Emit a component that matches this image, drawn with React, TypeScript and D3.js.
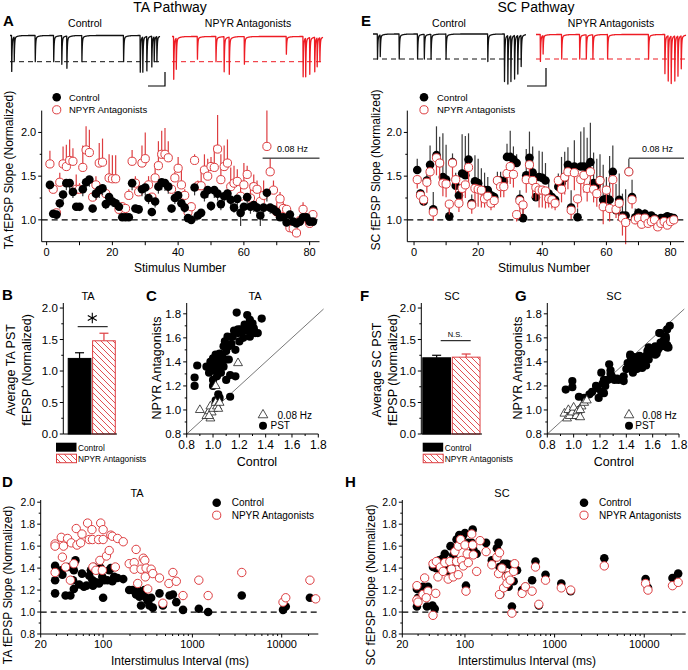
import React from "react";
import * as d3 from "d3";

// ---------------- DATA ----------------
const stimulusNumbers = d3.range(1, 82);

// Panel A (TA pathway) – mean normalized slope per stimulus
const taCtrl = [1.40,1.07,1.06,1.19,1.29,1.42,1.42,1.32,1.15,1.15,
 1.35,1.43,1.46,1.13,1.30,1.34,1.36,1.18,1.26,1.21,
 1.19,1.15,1.03,1.03,1.03,1.42,1.13,1.12,1.35,1.37,
 1.25,1.09,1.21,1.38,1.43,1.42,1.38,1.13,1.25,1.28,
 1.19,1.14,1.02,1.00,1.37,1.05,1.08,1.29,1.34,1.16,
 1.34,1.30,1.18,1.27,1.30,1.23,1.14,1.24,1.08,1.15,
 1.26,1.15,1.17,1.14,1.05,1.14,1.31,1.14,1.12,1.09,
 1.03,1.03,0.97,1.06,0.98,0.96,0.98,1.03,1.03,0.98,0.98];
const taCtrlErr = [0.05,0.04,0.04,0.06,0.07,0.08,0.08,0.07,0.05,0.05,
 0.08,0.08,0.08,0.05,0.07,0.09,0.08,0.06,0.07,0.06,
 0.06,0.05,0.03,0.03,0.03,0.08,0.05,0.05,0.08,0.09,
 0.07,0.05,0.07,0.08,0.09,0.09,0.08,0.05,0.07,0.08,
 0.06,0.06,0.03,0.03,0.09,0.04,0.05,0.08,0.09,0.06,
 0.09,0.08,0.07,0.08,0.09,0.08,0.06,0.08,0.15,0.07,
 0.09,0.08,0.08,0.07,0.12,0.07,0.10,0.07,0.06,0.05,
 0.04,0.04,0.03,0.05,0.03,0.03,0.03,0.04,0.03,0.03,0.03];
const taNpyr = [1.64,1.35,1.08,1.43,1.64,1.61,1.68,1.67,1.35,1.35,
 1.60,1.80,1.77,1.26,1.40,1.65,1.66,1.30,1.48,1.47,
 1.47,1.12,1.15,1.13,1.28,1.67,1.42,1.32,1.65,1.70,
 1.40,1.26,1.48,1.62,1.75,1.75,1.71,1.35,1.48,1.59,
 1.40,1.28,1.09,1.15,1.68,1.39,1.39,1.57,1.50,1.61,
 1.60,1.81,1.46,1.61,1.65,1.38,1.42,1.44,1.27,1.40,
 1.52,1.25,1.38,1.35,1.21,1.28,1.84,1.55,1.34,1.09,
 1.24,1.13,1.12,0.91,0.90,0.85,0.99,1.12,1.02,0.96,1.06];
const taNpyrErr = [0.15,0.05,0.03,0.11,0.20,0.25,0.24,0.15,0.17,0.07,
 0.25,0.27,0.26,0.02,0.10,0.23,0.27,0.05,0.27,0.27,
 0.27,0.03,0.05,0.02,0.07,0.13,0.08,0.08,0.20,0.30,
 0.10,0.04,0.17,0.28,0.27,0.30,0.19,0.05,0.07,0.13,
 0.18,0.07,0.03,0.05,0.07,0.06,0.16,0.18,0.20,0.11,
 0.25,0.39,0.29,0.24,0.27,0.22,0.20,0.14,0.18,0.25,
 0.10,0.17,0.14,0.10,0.17,0.17,0.41,0.15,0.11,0.11,
 0.08,0.07,0.05,0.04,0.05,0.03,0.06,0.08,0.03,0.04,0.04];

// Panel E (SC pathway)
const scCtrl = [1.57,1.30,1.21,1.45,1.63,1.12,1.74,1.65,1.49,1.46,
 1.04,1.66,1.39,1.28,1.53,1.51,1.69,1.19,1.44,1.42,
 1.34,1.34,1.34,1.28,1.26,1.45,1.45,1.44,1.72,1.72,
 1.69,1.65,1.24,1.02,1.51,1.71,1.54,1.26,1.49,1.48,
 1.45,1.30,1.26,1.23,1.38,1.42,1.48,1.63,1.14,1.61,
 1.03,1.61,1.61,1.59,1.66,1.42,1.40,1.45,1.23,1.24,
 1.23,1.55,1.11,1.23,1.05,1.05,1.55,1.26,1.03,1.08,
 1.05,1.07,1.04,1.05,1.02,0.98,1.02,1.02,1.04,1.03,1.02];
const scCtrlErr = [0.13,0.05,0.05,0.10,0.22,0.20,0.33,0.30,0.50,0.40,
 0.10,0.10,0.15,0.10,0.45,0.45,0.30,0.10,0.30,0.28,
 0.25,0.20,0.15,0.05,0.05,0.10,0.10,0.10,0.15,0.30,
 0.15,0.10,0.10,0.15,0.30,0.30,0.30,0.10,0.30,0.30,
 0.20,0.15,0.05,0.05,0.15,0.30,0.30,0.20,0.20,0.30,
 0.10,0.40,0.45,0.35,0.45,0.35,0.30,0.30,0.40,0.25,
 0.50,0.30,0.30,0.30,0.25,0.30,0.15,0.20,0.10,0.05,
 0.05,0.05,0.04,0.03,0.03,0.03,0.03,0.03,0.03,0.03,0.02];
const scNpyr = [1.46,1.28,1.23,1.43,1.55,1.09,1.71,1.65,1.42,1.41,
 1.18,1.65,1.46,1.19,1.36,1.40,1.60,1.17,1.36,1.35,
 1.34,1.24,1.27,1.19,1.22,1.45,1.38,1.38,1.53,1.61,
 1.52,1.06,1.22,1.17,1.46,1.63,1.45,1.37,1.34,1.34,
 1.33,1.24,1.23,1.19,1.45,1.35,1.49,1.55,1.11,1.54,
 1.24,1.46,1.51,1.36,1.55,1.35,1.30,1.45,1.15,1.34,
 1.13,1.46,1.12,1.19,1.02,0.97,1.55,1.23,1.00,1.02,
 0.95,1.02,0.96,0.98,1.00,0.92,0.96,0.98,0.94,0.98,1.00];
const scNpyrErr = [0.10,0.08,0.07,0.12,0.15,0.10,0.20,0.20,0.15,0.15,
 0.12,0.20,0.15,0.10,0.15,0.15,0.20,0.10,0.15,0.20,
 0.20,0.10,0.10,0.08,0.08,0.10,0.12,0.12,0.15,0.20,
 0.15,0.08,0.15,0.10,0.15,0.20,0.20,0.15,0.20,0.20,
 0.20,0.10,0.10,0.08,0.10,0.15,0.20,0.20,0.10,0.20,
 0.10,0.20,0.20,0.15,0.20,0.15,0.15,0.15,0.20,0.20,
 0.15,0.20,0.10,0.15,0.20,0.25,0.05,0.10,0.05,0.05,
 0.05,0.04,0.04,0.03,0.03,0.03,0.03,0.03,0.03,0.03,0.03];

// Example traces: stimulus positions (fraction of sweep) and peak depths (dashed line = 1)
const taStimPos = [0.01,0.027,0.167,0.29,0.344,0.378,0.478,0.756,0.867,0.884,0.911,0.944,0.96,0.978];
const taCtrlDepth = [1.37,0.95,1.0,1.0,1.1,1.25,1.0,1.0,1.4,1.4,1.35,1.2,1.0,1.0];
const taNpyrDepth = [1.7,1.3,0.9,1.0,1.4,1.5,1.1,0.7,1.6,1.6,1.5,1.4,1.2,1.0];
const scStimPos = [0.028,0.046,0.17,0.29,0.334,0.378,0.476,0.749,0.858,0.88,0.9,0.924,0.945,0.967];
const scCtrlDepth = [1.0,0.9,1.0,1.0,1.0,1.0,1.0,1.1,1.9,2.0,1.9,1.8,1.6,1.3];
const scNpyrDepth = [1.1,0.8,1.0,1.0,1.0,1.0,1.0,1.0,1.6,1.9,2.0,1.9,1.7,1.4];

// Bars (B, F)
const barGroups = ["Control", "NPYR Antagonists"];
const taBarMeans = [1.20, 1.48];
const taBarErrs = [0.09, 0.12];
const scBarMeans = [1.21, 1.22];
const scBarErrs = [0.04, 0.05];

// Scatter C (TA): [control, NPYR]
const taPstPairs = [[0.86,1.27],[0.86,1.20],[0.88,1.37],[0.95,1.36],[0.97,1.31],[0.98,1.40],[0.99,1.36],[1.00,1.25],[1.00,1.43],[1.01,1.33],
 [1.02,1.39],[1.02,1.46],[1.03,1.28],[1.03,1.40],[1.04,1.36],[1.05,1.47],[1.05,1.42],[1.06,1.31],[1.07,1.38],[1.07,1.44],
 [1.08,1.53],[1.08,1.36],[1.09,1.57],[1.10,1.49],[1.10,1.42],[1.11,1.61],[1.12,1.53],[1.12,1.42],[1.13,1.29],[1.14,1.55],
 [1.15,1.61],[1.16,1.66],[1.17,1.50],[1.18,1.81],[1.19,1.64],[1.19,1.67],[1.20,1.57],[1.21,1.67],[1.23,1.60],[1.23,1.66],
 [1.24,1.71],[1.26,1.66],[1.26,1.79],[1.27,1.70],[1.28,1.61],[1.28,1.75],[1.29,1.67],[1.30,1.72],[1.31,1.68],[1.32,1.64],
 [1.34,1.64],[1.37,1.76],[1.13,1.11],[1.04,1.13],[1.02,1.08],[1.00,1.20],[1.17,1.28],[1.10,1.25],[1.05,1.10]];
const taLowPairs = [[0.90,1.00],[0.95,0.95],[0.97,0.99],[0.98,0.93],[0.98,1.03],[0.99,0.98],[1.00,1.01],[1.02,1.06],[1.03,1.03],[1.04,1.01],
 [1.05,1.06],[1.02,1.20],[1.19,1.39],[0.97,0.95]];

// Scatter G (SC)
const scPstPairs = [[0.94,1.17],[0.99,1.24],[0.99,1.19],[1.04,1.11],[1.08,1.10],[1.12,1.13],[1.14,1.15],[1.17,1.20],[1.18,1.18],[1.19,1.10],
 [1.22,1.22],[1.23,1.25],[1.24,1.20],[1.26,1.25],[1.28,1.30],[1.29,1.28],[1.27,1.38],[1.21,1.31],[1.21,1.15],[1.23,1.14],
 [1.31,1.25],[1.33,1.26],[1.34,1.25],[1.38,1.28],[1.40,1.34],[1.41,1.39],[1.42,1.36],[1.43,1.46],[1.43,1.45],[1.44,1.42],
 [1.45,1.40],[1.46,1.36],[1.46,1.44],[1.47,1.38],[1.48,1.34],[1.48,1.42],[1.50,1.40],[1.50,1.45],[1.51,1.36],[1.52,1.35],
 [1.53,1.40],[1.53,1.42],[1.55,1.45],[1.56,1.49],[1.57,1.52],[1.59,1.47],[1.60,1.50],[1.61,1.49],[1.62,1.53],[1.63,1.47],
 [1.64,1.50],[1.65,1.52],[1.66,1.56],[1.67,1.53],[1.68,1.57],[1.69,1.60],[1.70,1.59],[1.71,1.54],[1.71,1.52],[1.65,1.64],
 [1.66,1.64],[1.70,1.61],[1.71,1.67],[1.73,1.70],[1.72,1.52],[1.62,1.46],[1.57,1.42],[1.55,1.37],[1.45,1.31],[1.38,1.24],
 [1.03,0.95],[1.28,1.33]];
const scLowPairs = [[0.93,0.97],[0.95,0.93],[0.96,1.00],[0.97,0.95],[0.99,0.98],[1.00,1.02],[1.02,0.95],[1.03,0.99],[1.05,0.94],[1.06,1.03],
 [1.08,1.06],[1.10,1.08],[1.05,1.00]];

// D (TA) interstimulus interval (ms) vs normalized slope
const taIsiCtrl = [[29,1.42],[29,1.29],[29,1.17],[34,1.38],[35,1.34],[38,1.15],[40,1.41],[43,1.15],[46,1.29],[47,1.38],
 [49,1.47],[47,1.21],[54,1.25],[58,1.35],[61,1.23],[65,1.24],[70,1.33],[73,1.38],[76,1.29],[77,1.24],
 [79,1.41],[83,1.27],[86,1.38],[90,1.26],[94,1.40],[98,1.32],[100,1.13],[103,1.29],[112,1.29],[117,1.38],
 [122,1.40],[127,1.28],[133,1.32],[145,1.31],[168,1.30],[196,1.20],[214,1.20],[234,1.16],[244,1.20],[255,1.14],
 [266,1.06],[278,1.16],[290,1.20],[303,1.13],[316,1.10],[330,1.06],[345,1.13],[360,1.04],[428,1.17],[467,1.06],
 [555,1.15],[605,1.16],[660,1.09],[785,1.02],[1180,1.03],[1500,1.00],[3570,1.15],[10350,1.02],[11100,1.05],[20700,1.13]];
const taIsiNpyr = [[29,1.62],[29,1.60],[29,1.36],[34,1.68],[35,1.50],[36,1.60],[38,1.41],[40,1.67],[43,1.29],[44,1.63],
 [47,1.44],[50,1.76],[51,1.61],[56,1.63],[58,1.71],[67,1.81],[70,1.66],[75,1.75],[76,1.66],[77,1.41],
 [83,1.38],[89,1.66],[92,1.47],[94,1.81],[100,1.75],[100,1.66],[98,1.38],[109,1.51],[117,1.56],[122,1.70],
 [127,1.69],[137,1.41],[145,1.67],[168,1.64],[196,1.44],[223,1.45],[234,1.57],[223,1.39],[244,1.26],[266,1.39],
 [282,1.49],[293,1.47],[297,1.32],[303,1.40],[316,1.21],[345,1.39],[360,1.35],[428,1.31],[467,1.08],[546,1.26],
 [605,1.36],[660,1.28],[785,1.15],[1180,1.29],[1500,1.15],[3570,1.36],[10350,1.09],[11100,1.13],[20700,1.29],[24000,1.12]];

// H (SC)
const scIsiCtrl = [[29.1,1.21],[29.1,1.05],[29.9,1.13],[34,1.23],[38.7,1.23],[37.7,1.05],[43.4,1.06],[46,1.03],[44,1.41],[48,1.40],
 [51.5,1.47],[54.7,1.44],[57,1.49],[59.6,1.53],[62,1.41],[66.7,1.37],[69,1.60],[70.8,1.43],[74,1.52],[80.6,1.66],
 [86.4,1.70],[91.8,1.44],[94.2,1.69],[100,1.72],[102.6,1.24],[109,1.63],[119,1.63],[122,1.75],[124,1.57],[135,1.53],
 [172,1.63],[199.5,1.47],[227,1.58],[237,1.63],[243,1.41],[247,1.16],[270,1.44],[289,1.33],[294,1.44],[307,1.23],
 [320,1.43],[334,1.05],[349,1.28],[358,1.40],[381,1.38],[434,1.20],[472,1.23],[561,1.29],[612,1.46],[667,1.06],
 [792,1.34],[1188,1.26],[1513,1.19],[3584,1.49],[10350,1.30],[11000,1.22],[20650,1.31],[23900,1.35]];
const scIsiNpyr = [[29.1,1.24],[29.1,1.11],[29.9,1.09],[34,1.16],[35.5,1.31],[38.7,1.19],[37,1.13],[44,0.97],[47.2,1.17],[44,1.44],
 [48,1.46],[50,1.32],[53.3,1.41],[57,1.37],[59.6,1.45],[65,1.30],[67.8,1.46],[70.8,1.39],[74,1.32],[77.2,1.55],
 [80.6,1.46],[84.2,1.60],[84.2,1.34],[89.4,1.66],[91.8,1.47],[95.8,1.42],[100,1.61],[102.6,1.19],[106,1.53],[109,1.45],
 [119,1.71],[122,1.61],[124,1.52],[135,1.37],[147.4,1.65],[172,1.55],[199.5,1.43],[227,1.50],[237,1.35],[243,1.54],
 [243,1.16],[258,1.40],[270,1.22],[289,1.32],[294,1.26],[307,1.33],[320,1.29],[334,0.99],[349,1.37],[358,1.44],
 [434,1.17],[472,1.23],[561,1.19],[612,1.41],[667,1.07],[792,1.29],[1188,1.22],[1513,1.20],[3584,1.42],[10350,1.26],
 [11000,1.20],[20650,1.24],[23900,1.27]];

// Tick values
const seriesYTicks = [1.0, 1.5, 2.0];
const seriesYMinor = [1.25, 1.75];
const seriesXTicks = [0, 10, 20, 30, 40, 50, 60, 70, 80];
const seriesXLabels = [0, 20, 40, 60, 80];
const barYTicks = [0, 0.5, 1.0, 1.5, 2.0];
const barYMinor = [0.25, 0.75, 1.25, 1.75];
const scatTicks = [0.8, 1.0, 1.2, 1.4, 1.6, 1.8];
const scatMinor = [0.9, 1.1, 1.3, 1.5, 1.7];
const isiYTicks = [0.8, 1.0, 1.2, 1.4, 1.6, 1.8, 2.0];
const isiYMinor = [0.9, 1.1, 1.3, 1.5, 1.7, 1.9];
const isiXTicks = [20, 100, 1000, 10000];
const isiXMinor = [30,40,50,60,70,80,90,200,300,400,500,600,700,800,900,2000,3000,4000,5000,6000,7000,8000,9000,20000];

// ---------------- STYLE ----------------
const FONT = "'Liberation Sans', Arial, Helvetica, sans-serif";
const TRACE_RED = "#ee1c24";
const MARK_RED = "#dd3d40";
const f1 = (v: number) => v.toFixed(1);

function AxisY({ x, scale, ticks, minor = [], labels, fmt = f1, fs = 11, tl = 3.5, ml = 2, gap = 2 }: any) {
  const [r0, r1] = scale.range();
  const lab = labels || ticks;
  return (
    <g>
      <line x1={x} x2={x} y1={r0} y2={r1} stroke="#000" strokeWidth={1} />
      {ticks.map((v: number) => <line key={"M" + v} x1={x - tl} x2={x} y1={scale(v)} y2={scale(v)} stroke="#000" />)}
      {minor.map((v: number) => <line key={"m" + v} x1={x - ml} x2={x} y1={scale(v)} y2={scale(v)} stroke="#000" />)}
      {lab.map((v: number) => (
        <text key={"t" + v} x={x - tl - gap} y={scale(v)} dy="0.36em" textAnchor="end" fontSize={fs}>{fmt(v)}</text>
      ))}
    </g>
  );
}

function AxisX({ y, scale, ticks, minor = [], labels, fmt = (v: number) => String(v), fs = 11, tl = 3.5, ml = 2, gap = 2 }: any) {
  const [r0, r1] = scale.range();
  const lab = labels || ticks;
  return (
    <g>
      <line x1={r0} x2={r1} y1={y} y2={y} stroke="#000" strokeWidth={1} />
      {ticks.map((v: number) => <line key={"M" + v} x1={scale(v)} x2={scale(v)} y1={y} y2={y + tl} stroke="#000" />)}
      {minor.map((v: number) => <line key={"m" + v} x1={scale(v)} x2={scale(v)} y1={y} y2={y + ml} stroke="#000" />)}
      {lab.map((v: number) => (
        <text key={"t" + v} x={scale(v)} y={y + tl + gap + fs * 0.8} textAnchor="middle" fontSize={fs}>{fmt(v)}</text>
      ))}
    </g>
  );
}

function Trace({ x0, x1, yBase, yDash, pos, depth, color }: any) {
  const xs = d3.scaleLinear().domain([0, 1]).range([x0, x1]);
  const ys = d3.scaleLinear().domain([0, 1]).range([yBase, yDash]);
  const rise = 0.0015, tau = 0.0025;
  const kernel = (dt: number) =>
    dt < 0 ? 0 : dt < rise ? dt / rise : 0.9 * Math.exp(-(dt - rise) / tau) + 0.1 * Math.exp(-(dt - rise) / 0.02);
  const samples = d3.merge<number>([d3.range(0, 1.0001, 0.001), pos, pos.map((p: number) => p + rise)]).sort(d3.ascending);
  const pts = samples.map((t: number) => [t, d3.max(pos, (p: number, i: number) => kernel(t - p) * depth[i]) as number]);
  const line = d3.line<any>().x((d) => xs(d[0])).y((d) => ys(d[1]));
  return (
    <g>
      <line x1={x0} x2={x1} y1={yDash} y2={yDash} stroke={color} strokeWidth={1} strokeDasharray="5,4" />
      <path d={line(pts) || ""} fill="none" stroke={color} strokeWidth={1.3} strokeLinejoin="round" />
    </g>
  );
}

function Series({ xs, ys, ctrl, ctrlErr, ctrlDir, npyr, npyrErr, npyrDir, redOnTop }: any) {
  const black = (
    <g key="black">
      {ctrl.map((v: number, i: number) => (
        <line key={"e" + i} x1={xs(stimulusNumbers[i])} x2={xs(stimulusNumbers[i])} y1={ys(v)} y2={ys(v + ctrlDir * ctrlErr[i])} stroke="#3a3a3a" strokeWidth={1.2} />
      ))}
      {ctrl.map((v: number, i: number) => (
        <circle key={"c" + i} cx={xs(stimulusNumbers[i])} cy={ys(v)} r={4.3} fill="#000" />
      ))}
    </g>
  );
  const red = (
    <g key="red">
      {npyr.map((v: number, i: number) => (
        <line key={"e" + i} x1={xs(stimulusNumbers[i])} x2={xs(stimulusNumbers[i])} y1={ys(v)} y2={ys(v + npyrDir * npyrErr[i])} stroke={MARK_RED} strokeWidth={1.2} />
      ))}
      {npyr.map((v: number, i: number) => (
        <circle key={"c" + i} cx={xs(stimulusNumbers[i])} cy={ys(v)} r={4.1} fill="#fff" stroke={MARK_RED} strokeWidth={1} />
      ))}
    </g>
  );
  return <g>{redOnTop ? [black, red] : [red, black]}</g>;
}

function Bars({ band, ys, means, errs, hatchId }: any) {
  return (
    <g>
      {barGroups.map((g, i) => {
        const x = band(g);
        const w = band.bandwidth();
        const col = i === 0 ? "#000" : MARK_RED;
        const top = ys(means[i]);
        const et = ys(means[i] + errs[i]);
        const cx = x + w / 2;
        return (
          <g key={g}>
            <line x1={cx} x2={cx} y1={top} y2={et} stroke={col} strokeWidth={1.2} />
            <line x1={cx - 4.5} x2={cx + 4.5} y1={et} y2={et} stroke={col} strokeWidth={1.2} />
            <rect x={x} y={top} width={w} height={ys(0) - top} fill={i === 0 ? "#000" : `url(#${hatchId})`} stroke={col} strokeWidth={1} />
          </g>
        );
      })}
    </g>
  );
}

function BarLegend({ x, y, hatchId }: any) {
  return (
    <g fontSize={8.3}>
      <rect x={x} y={y} width={20.5} height={9} fill="#000" />
      <text x={x + 22} y={y + 8}>Control</text>
      <rect x={x + 0.5} y={y + 11.5} width={20} height={8.5} fill={`url(#${hatchId})`} stroke={MARK_RED} strokeWidth={1} />
      <text x={x + 22} y={y + 19.5}>NPYR Antagonists</text>
    </g>
  );
}

function Scatter({ xs, ys, pst, low }: any) {
  const tri = d3.symbol().type(d3.symbolTriangle).size(34)() || "";
  return (
    <g>
      <line x1={xs(0.8)} y1={ys(0.8)} x2={xs(1.84)} y2={ys(1.84)} stroke="#555" strokeWidth={0.8} />
      {pst.map((p: number[], i: number) => <circle key={"p" + i} cx={xs(p[0])} cy={ys(p[1])} r={4.1} fill="#000" />)}
      {low.map((p: number[], i: number) => (
        <path key={"l" + i} d={tri} transform={`translate(${xs(p[0])},${ys(p[1])})`} fill="#fff" stroke="#222" strokeWidth={0.8} />
      ))}
    </g>
  );
}

function ScatterLegend({ x, y, textX }: any) {
  const tri = d3.symbol().type(d3.symbolTriangle).size(40)() || "";
  return (
    <g fontSize={10}>
      <path d={tri} transform={`translate(${x},${y})`} fill="#fff" stroke="#222" strokeWidth={0.8} />
      <text x={textX} y={y + 3.5}>0.08 Hz</text>
      <circle cx={x} cy={y + 10.7} r={4} fill="#000" />
      <text x={textX - 7} y={y + 14.3}>PST</text>
    </g>
  );
}

function IsiPlot({ xs, ys, ctrl, npyr }: any) {
  return (
    <g>
      <line x1={xs.range()[0]} x2={xs.range()[1]} y1={ys(1)} y2={ys(1)} stroke="#000" strokeWidth={1.2} strokeDasharray="6,4" />
      {ctrl.map((p: number[], i: number) => <circle key={"c" + i} cx={xs(p[0])} cy={ys(p[1])} r={4.3} fill="#000" />)}
      {npyr.map((p: number[], i: number) => (
        <circle key={"n" + i} cx={xs(p[0])} cy={ys(p[1])} r={4.2} fill="#fff" stroke={MARK_RED} strokeWidth={1} />
      ))}
    </g>
  );
}

function Legend2({ x, y, textX, fs = 9.5 }: any) {
  return (
    <g fontSize={fs}>
      <circle cx={x} cy={y} r={4.3} fill="#000" />
      <text x={textX} y={y + 3.5}>Control</text>
      <circle cx={x} cy={y + 12.5} r={4.1} fill="#fff" stroke={MARK_RED} strokeWidth={1} />
      <text x={textX} y={y + 16}>NPYR Antagonists</text>
    </g>
  );
}

export default function App() {
  // A / E
  const xA = d3.scaleLinear().domain([-1.5, 83]).range([41.7, 319.5]);
  const yA = d3.scaleLinear().domain([0.75, 2.25]).range([241.7, 110.6]);
  const xE = d3.scaleLinear().domain([-2.1, 84.2]).range([407.3, 684]);
  const yE = yA.copy();
  // B / F
  const yB = d3.scaleLinear().domain([0, 2.08]).range([434, 303]);
  const bandB = d3.scaleBand().domain(barGroups).range([66.5, 117]).paddingInner(0.07).paddingOuter(0.07);
  const bandF = d3.scaleBand().domain(barGroups).range([421.3, 481.5]).paddingInner(0.06).paddingOuter(0.05);
  // C / G
  const xC = d3.scaleLinear().domain([0.8, 1.8]).range([186.7, 318.3]);
  const yC = d3.scaleLinear().domain([0.8, 1.89]).range([434, 303]);
  const xG = d3.scaleLinear().domain([0.8, 1.8]).range([547.3, 679]);
  // D / H
  const xD = d3.scaleLog().domain([20, 25700]).range([40.7, 318.3]);
  const yD = d3.scaleLinear().domain([0.8, 2.02]).range([634, 500]);
  const xH = d3.scaleLog().domain([20, 29000]).range([402.3, 685.7]);

  const isiFmt = (v: number) => String(v);
  const star = [90, 30, 150].map((a) => {
    const r = 5.2, rad = (a * Math.PI) / 180;
    return [92.3 - r * Math.cos(rad), 318 - r * Math.sin(rad), 92.3 + r * Math.cos(rad), 318 + r * Math.sin(rad)];
  });

  return (
    <svg width={688} height={670} viewBox="0 0 688 670" style={{ position: "absolute", left: 0, top: 0, fontFamily: FONT, background: "#fff" }}>
      <defs>
        <pattern id="hatch" patternUnits="userSpaceOnUse" width="6" height="6">
          <rect width="6" height="6" fill="#fff" />
          <path d="M0,0 L6,6 M-1.5,4.5 L1.5,7.5 M4.5,-1.5 L7.5,1.5" stroke={MARK_RED} strokeWidth={0.9} />
        </pattern>
      </defs>
      <rect width={688} height={670} fill="#fff" />

      {/* ---------- Headers ---------- */}
      <text x={170} y={12} fontSize={14} textAnchor="middle">TA Pathway</text>
      <text x={536} y={12} fontSize={14} textAnchor="middle">SC Pathway</text>
      <text x={3} y={26} fontSize={15} fontWeight="bold">A</text>
      <text x={361} y={26} fontSize={15} fontWeight="bold">E</text>
      <text x={85} y={26.5} fontSize={10.5} textAnchor="middle">Control</text>
      <text x={248} y={26.5} fontSize={10.5} textAnchor="middle">NPYR Antagonists</text>
      <text x={449} y={26.5} fontSize={10.5} textAnchor="middle">Control</text>
      <text x={611} y={26.5} fontSize={10.5} textAnchor="middle">NPYR Antagonists</text>

      {/* ---------- Traces ---------- */}
      <Trace x0={10} x1={160} yBase={35.5} yDash={61.7} pos={taStimPos} depth={taCtrlDepth} color="#111" />
      <Trace x0={172} x1={323} yBase={36.5} yDash={61.7} pos={taStimPos} depth={taNpyrDepth} color={TRACE_RED} />
      <Trace x0={373} x1={526} yBase={34} yDash={59} pos={scStimPos} depth={scCtrlDepth} color="#111" />
      <Trace x0={536} x1={686} yBase={34.5} yDash={59} pos={scStimPos} depth={scNpyrDepth} color={TRACE_RED} />
      <path d="M148,86 L165,86 L165,72" fill="none" stroke="#000" strokeWidth={1.2} />
      <path d="M527,86 L546,86 L546,68" fill="none" stroke="#000" strokeWidth={1.2} />

      {/* ---------- A ---------- */}
      <line x1={xA.range()[0]} x2={xA.range()[1]} y1={yA(1)} y2={yA(1)} stroke="#000" strokeWidth={1.2} strokeDasharray="6,4" />
      <Series xs={xA} ys={yA} ctrl={taCtrl} ctrlErr={taCtrlErr} ctrlDir={-1} npyr={taNpyr} npyrErr={taNpyrErr} npyrDir={1} redOnTop={false} />
      <AxisY x={41.7} scale={yA} ticks={seriesYTicks} minor={seriesYMinor} fs={11} />
      <AxisX y={241.7} scale={xA} ticks={seriesXTicks} labels={seriesXLabels} fs={11} />
      <line x1={xA(65.7)} x2={xA(83)} y1={yA(1.706)} y2={yA(1.706)} stroke="#000" strokeWidth={1} />
      <text x={277} y={152} fontSize={9}>0.08 Hz</text>
      <Legend2 x={56.7} y={97.3} textX={69} />
      <text transform="translate(13,170) rotate(-90)" fontSize={12} textAnchor="middle">TA fEPSP Slope (Normalized)</text>
      <text x={180} y={272} fontSize={12} textAnchor="middle">Stimulus Number</text>

      {/* ---------- E ---------- */}
      <line x1={xE.range()[0]} x2={xE.range()[1]} y1={yE(1)} y2={yE(1)} stroke="#000" strokeWidth={1.2} strokeDasharray="6,4" />
      <Series xs={xE} ys={yE} ctrl={scCtrl} ctrlErr={scCtrlErr} ctrlDir={1} npyr={scNpyr} npyrErr={scNpyrErr} npyrDir={-1} redOnTop={true} />
      <AxisY x={407.3} scale={yE} ticks={seriesYTicks} minor={seriesYMinor} fs={11} />
      <AxisX y={241.7} scale={xE} ticks={seriesXTicks} labels={seriesXLabels} fs={11} />
      <line x1={xE(67)} x2={xE(84.2)} y1={yE(1.706)} y2={yE(1.706)} stroke="#000" strokeWidth={1} />
      <text x={642} y={152} fontSize={9}>0.08 Hz</text>
      <Legend2 x={424} y={97.3} textX={437} />
      <text transform="translate(380,170) rotate(-90)" fontSize={12} textAnchor="middle">SC fEPSP Slope (Normalized)</text>
      <text x={544} y={272} fontSize={12} textAnchor="middle">Stimulus Number</text>

      {/* ---------- B ---------- */}
      <text x={2} y={300} fontSize={15} fontWeight="bold">B</text>
      <text x={88} y={300} fontSize={11} textAnchor="middle">TA</text>
      <Bars band={bandB} ys={yB} means={taBarMeans} errs={taBarErrs} hatchId="hatch" />
      <AxisY x={63.3} scale={yB} ticks={barYTicks} minor={barYMinor} fs={11.5} />
      <line x1={63.3} x2={117} y1={434} y2={434} stroke="#000" />
      <line x1={77.7} x2={107.7} y1={326.7} y2={326.7} stroke="#000" strokeWidth={1} />
      {star.map((s, i) => <line key={i} x1={s[0]} y1={s[1]} x2={s[2]} y2={s[3]} stroke="#000" strokeWidth={1.1} />)}
      <BarLegend x={56} y={442.7} hatchId="hatch" />
      <text transform="translate(15,370) rotate(-90)" fontSize={12.5} textAnchor="middle">Average TA PST</text>
      <text transform="translate(31,370) rotate(-90)" fontSize={12.5} textAnchor="middle">fEPSP (Normalized)</text>

      {/* ---------- C ---------- */}
      <text x={146} y={301} fontSize={15} fontWeight="bold">C</text>
      <text x={255} y={300} fontSize={11} textAnchor="middle">TA</text>
      <Scatter xs={xC} ys={yC} pst={taPstPairs} low={taLowPairs} />
      <AxisY x={186.7} scale={yC} ticks={scatTicks} minor={scatMinor} fs={11.5} />
      <AxisX y={434} scale={xC} ticks={scatTicks} minor={scatMinor} fmt={f1} fs={12} />
      <ScatterLegend x={263} y={415} textX={277.5} />
      <text transform="translate(161,368) rotate(-90)" fontSize={12.5} textAnchor="middle">NPYR Antagonists</text>
      <text x={257} y={466} fontSize={12.5} textAnchor="middle">Control</text>

      {/* ---------- F ---------- */}
      <text x={360} y={301} fontSize={15} fontWeight="bold">F</text>
      <text x={452} y={300} fontSize={11} textAnchor="middle">SC</text>
      <Bars band={bandF} ys={yB} means={scBarMeans} errs={scBarErrs} hatchId="hatch" />
      <AxisY x={421.3} scale={yB} ticks={barYTicks} minor={barYMinor} fs={11.5} />
      <line x1={421.3} x2={482} y1={434} y2={434} stroke="#000" />
      <line x1={440.7} x2={470.7} y1={340.7} y2={340.7} stroke="#000" strokeWidth={1} />
      <text x={455} y={336.5} fontSize={7.5} textAnchor="middle">N.S.</text>
      <BarLegend x={422.7} y={442.7} hatchId="hatch" />
      <text transform="translate(381,370) rotate(-90)" fontSize={12.5} textAnchor="middle">Average SC PST</text>
      <text transform="translate(397,370) rotate(-90)" fontSize={12.5} textAnchor="middle">fEPSP (Normalized)</text>

      {/* ---------- G ---------- */}
      <text x={515} y={301} fontSize={15} fontWeight="bold">G</text>
      <text x={614} y={300} fontSize={11} textAnchor="middle">SC</text>
      <Scatter xs={xG} ys={yC} pst={scPstPairs} low={scLowPairs} />
      <AxisY x={547.3} scale={yC} ticks={scatTicks} minor={scatMinor} fs={11.5} />
      <AxisX y={434} scale={xG} ticks={scatTicks} minor={scatMinor} fmt={f1} fs={12} />
      <ScatterLegend x={629} y={415} textX={642.3} />
      <text transform="translate(522,368) rotate(-90)" fontSize={12.5} textAnchor="middle">NPYR Antagonists</text>
      <text x={614} y={466} fontSize={12.5} textAnchor="middle">Control</text>

      {/* ---------- D ---------- */}
      <text x={2} y={487} fontSize={15} fontWeight="bold">D</text>
      <text x={137} y={497} fontSize={11} textAnchor="middle">TA</text>
      <IsiPlot xs={xD} ys={yD} ctrl={taIsiCtrl} npyr={taIsiNpyr} />
      <AxisY x={40.7} scale={yD} ticks={isiYTicks} minor={isiYMinor} fs={10.5} />
      <AxisX y={634} scale={xD} ticks={isiXTicks} minor={isiXMinor} fmt={isiFmt} fs={11} />
      <Legend2 x={216.7} y={502.7} textX={231.7} fs={10} />
      <text transform="translate(12,585) rotate(-90)" fontSize={12} textAnchor="middle">TA fEPSP Slope (Normalized)</text>
      <text x={180} y={665} fontSize={12} textAnchor="middle">Interstimulus Interval (ms)</text>

      {/* ---------- H ---------- */}
      <text x={345} y={487} fontSize={15} fontWeight="bold">H</text>
      <text x={502} y={497} fontSize={11} textAnchor="middle">SC</text>
      <IsiPlot xs={xH} ys={yD} ctrl={scIsiCtrl} npyr={scIsiNpyr} />
      <AxisY x={402.3} scale={yD} ticks={isiYTicks} minor={isiYMinor} fs={10.5} />
      <AxisX y={634} scale={xH} ticks={isiXTicks} minor={isiXMinor} fmt={isiFmt} fs={11} />
      <Legend2 x={584} y={502.7} textX={599} fs={10} />
      <text transform="translate(375,585) rotate(-90)" fontSize={12} textAnchor="middle">SC fEPSP Slope (Normalized)</text>
      <text x={527} y={665} fontSize={12} textAnchor="middle">Interstimulus Interval (ms)</text>
    </svg>
  );
}
